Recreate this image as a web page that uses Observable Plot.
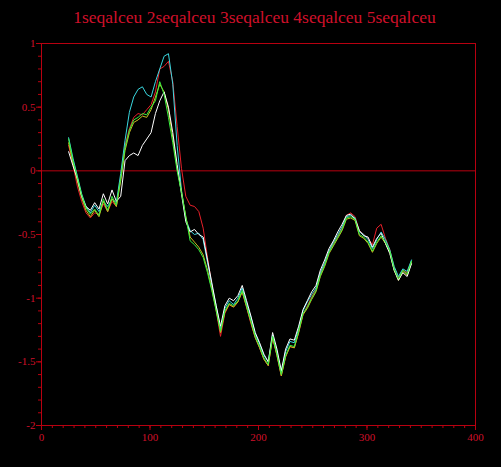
<!DOCTYPE html>
<html>
<head>
<meta charset="utf-8">
<script src="https://cdn.jsdelivr.net/npm/d3@7"></script>
<script src="https://cdn.jsdelivr.net/npm/@observablehq/plot@0.6"></script>
<style>
  html, body { margin: 0; padding: 0; background: #000; }
  #title { height: 30px; line-height: 34px; text-align: center; color: #d0102a;
           font-family: "Liberation Serif", serif; font-size: 17.5px; padding-left: 8px; }
  svg { display: block; }
</style>
</head>
<body>
<div id="title">1seqalceu 2seqalceu 3seqalceu 4seqalceu 5seqalceu</div>
<div id="chart"></div>
<script>
const xs = [25,29,33,37,41,45,49,53,57,61,65,69,73,77,81,85,89,93,97,101,105,109,113,117,121,125,129,133,137,141,145,149,153,157,161,165,169,173,177,181,185,189,193,197,201,205,209,213,217,221,225,229,233,237,241,245,249,253,257,261,265,269,273,277,281,285,289,293,297,301,305,309,313,317,321,325,329,333,337,341];

const seq1 = [0.20,0.05,-0.12,-0.24,-0.33,-0.37,-0.33,-0.34,-0.26,-0.32,-0.24,-0.28,-0.05,0.20,0.33,0.42,0.45,0.44,0.48,0.52,0.62,0.80,0.82,0.86,0.70,0.35,0.02,-0.20,-0.27,-0.28,-0.32,-0.45,-0.68,-0.90,-1.10,-1.30,-1.12,-1.05,-1.07,-1.03,-0.95,-1.07,-1.20,-1.31,-1.39,-1.48,-1.53,-1.31,-1.45,-1.61,-1.46,-1.38,-1.39,-1.27,-1.13,-1.06,-0.99,-0.93,-0.81,-0.73,-0.63,-0.57,-0.51,-0.45,-0.35,-0.33,-0.36,-0.47,-0.50,-0.53,-0.58,-0.45,-0.42,-0.53,-0.62,-0.76,-0.84,-0.78,-0.80,-0.71];
const seq2 = [0.26,0.10,-0.04,-0.18,-0.28,-0.33,-0.27,-0.32,-0.24,-0.28,-0.22,-0.25,-0.02,0.24,0.46,0.58,0.64,0.66,0.60,0.58,0.70,0.80,0.90,0.92,0.68,0.20,-0.15,-0.38,-0.47,-0.50,-0.49,-0.54,-0.72,-0.90,-1.06,-1.24,-1.08,-1.02,-1.05,-1.00,-0.92,-1.04,-1.15,-1.28,-1.36,-1.45,-1.50,-1.29,-1.42,-1.58,-1.42,-1.34,-1.35,-1.24,-1.10,-1.03,-0.97,-0.92,-0.80,-0.72,-0.63,-0.56,-0.50,-0.44,-0.36,-0.35,-0.37,-0.48,-0.50,-0.54,-0.61,-0.54,-0.48,-0.54,-0.62,-0.75,-0.83,-0.77,-0.79,-0.70];
const seq3 = [0.22,0.06,-0.08,-0.21,-0.31,-0.36,-0.31,-0.36,-0.24,-0.32,-0.22,-0.28,-0.08,0.16,0.30,0.38,0.40,0.43,0.42,0.48,0.58,0.68,0.62,0.48,0.26,0.02,-0.16,-0.36,-0.52,-0.56,-0.60,-0.66,-0.78,-0.93,-1.09,-1.27,-1.11,-1.05,-1.07,-1.03,-0.95,-1.07,-1.19,-1.31,-1.39,-1.48,-1.53,-1.31,-1.45,-1.61,-1.46,-1.38,-1.39,-1.27,-1.13,-1.08,-1.01,-0.95,-0.83,-0.75,-0.65,-0.59,-0.53,-0.47,-0.38,-0.37,-0.39,-0.51,-0.53,-0.57,-0.64,-0.57,-0.52,-0.57,-0.64,-0.78,-0.86,-0.79,-0.82,-0.72];
const seq4 = [0.15,0.04,-0.06,-0.20,-0.28,-0.31,-0.25,-0.30,-0.18,-0.26,-0.15,-0.24,-0.20,0.08,0.12,0.14,0.12,0.20,0.25,0.30,0.45,0.55,0.62,0.50,0.30,0.05,-0.18,-0.40,-0.48,-0.46,-0.50,-0.52,-0.70,-0.88,-1.06,-1.22,-1.06,-1.00,-1.02,-0.98,-0.90,-1.02,-1.14,-1.27,-1.35,-1.44,-1.50,-1.27,-1.40,-1.57,-1.40,-1.32,-1.33,-1.22,-1.09,-1.02,-0.95,-0.90,-0.78,-0.70,-0.61,-0.55,-0.48,-0.42,-0.35,-0.34,-0.38,-0.47,-0.51,-0.52,-0.60,-0.53,-0.49,-0.57,-0.65,-0.78,-0.86,-0.80,-0.83,-0.73];
const seq5 = [0.25,0.08,-0.05,-0.19,-0.29,-0.34,-0.30,-0.35,-0.22,-0.31,-0.20,-0.27,-0.06,0.18,0.32,0.40,0.42,0.45,0.44,0.50,0.55,0.70,0.60,0.42,0.22,0.00,-0.17,-0.36,-0.55,-0.58,-0.62,-0.68,-0.80,-0.94,-1.10,-1.26,-1.10,-1.04,-1.06,-1.02,-0.94,-1.06,-1.18,-1.30,-1.38,-1.47,-1.52,-1.30,-1.44,-1.60,-1.45,-1.37,-1.38,-1.26,-1.12,-1.07,-1.00,-0.94,-0.82,-0.74,-0.64,-0.58,-0.52,-0.46,-0.37,-0.36,-0.38,-0.50,-0.52,-0.56,-0.63,-0.56,-0.51,-0.56,-0.63,-0.77,-0.85,-0.78,-0.81,-0.71];

const seriesNames = ["1seqalceu","2seqalceu","3seqalceu","4seqalceu","5seqalceu"];
const seriesValues = [seq1, seq2, seq3, seq4, seq5];
const seriesColors = ["#e8202a","#3ad8e0","#c8c020","#ffffff","#38f040"];

const yMajor = [-2,-1.5,-1,-0.5,0,0.5,1];
const yMinor = d3.range(-20, 11).map(d => d / 10);
const xMajor = [0,100,200,300,400];
const xMinor = d3.range(0, 41).map(d => d * 10);

const axisRed = "#b80010";
const textRed = "#d0102a";

const lineMarks = seriesNames.map((name, i) =>
  Plot.line(xs.map((x, j) => ({x, y: seriesValues[i][j], s: name})),
    {x: "x", y: "y", stroke: seriesColors[i], strokeWidth: 1})
);

const chart = Plot.plot({
  width: 501,
  height: 437,
  marginTop: 13,
  marginBottom: 42,
  marginLeft: 41,
  marginRight: 26,
  style: {background: "#000", color: textRed, fontFamily: "'Liberation Serif', serif", fontSize: "11px"},
  x: {domain: [0, 400]},
  y: {domain: [-2, 1]},
  marks: [
    Plot.ruleY([0], {stroke: axisRed, strokeWidth: 1}),
    Plot.axisY(yMinor, {tickSize: 3, tickFormat: () => "", stroke: axisRed, label: null}),
    Plot.axisY(yMajor, {tickSize: 5, tickPadding: 1, tickFormat: d => String(d), stroke: axisRed, fill: textRed, label: null}),
    Plot.axisX(xMinor, {tickSize: 3, tickFormat: () => "", stroke: axisRed, label: null}),
    Plot.axisX(xMajor, {tickSize: 5, tickPadding: 3, tickFormat: d => String(d), stroke: axisRed, fill: textRed, label: null}),
    ...lineMarks,
    Plot.frame({stroke: axisRed, strokeWidth: 1})
  ]
});
document.getElementById("chart").appendChild(chart);
</script>
</body>
</html>
